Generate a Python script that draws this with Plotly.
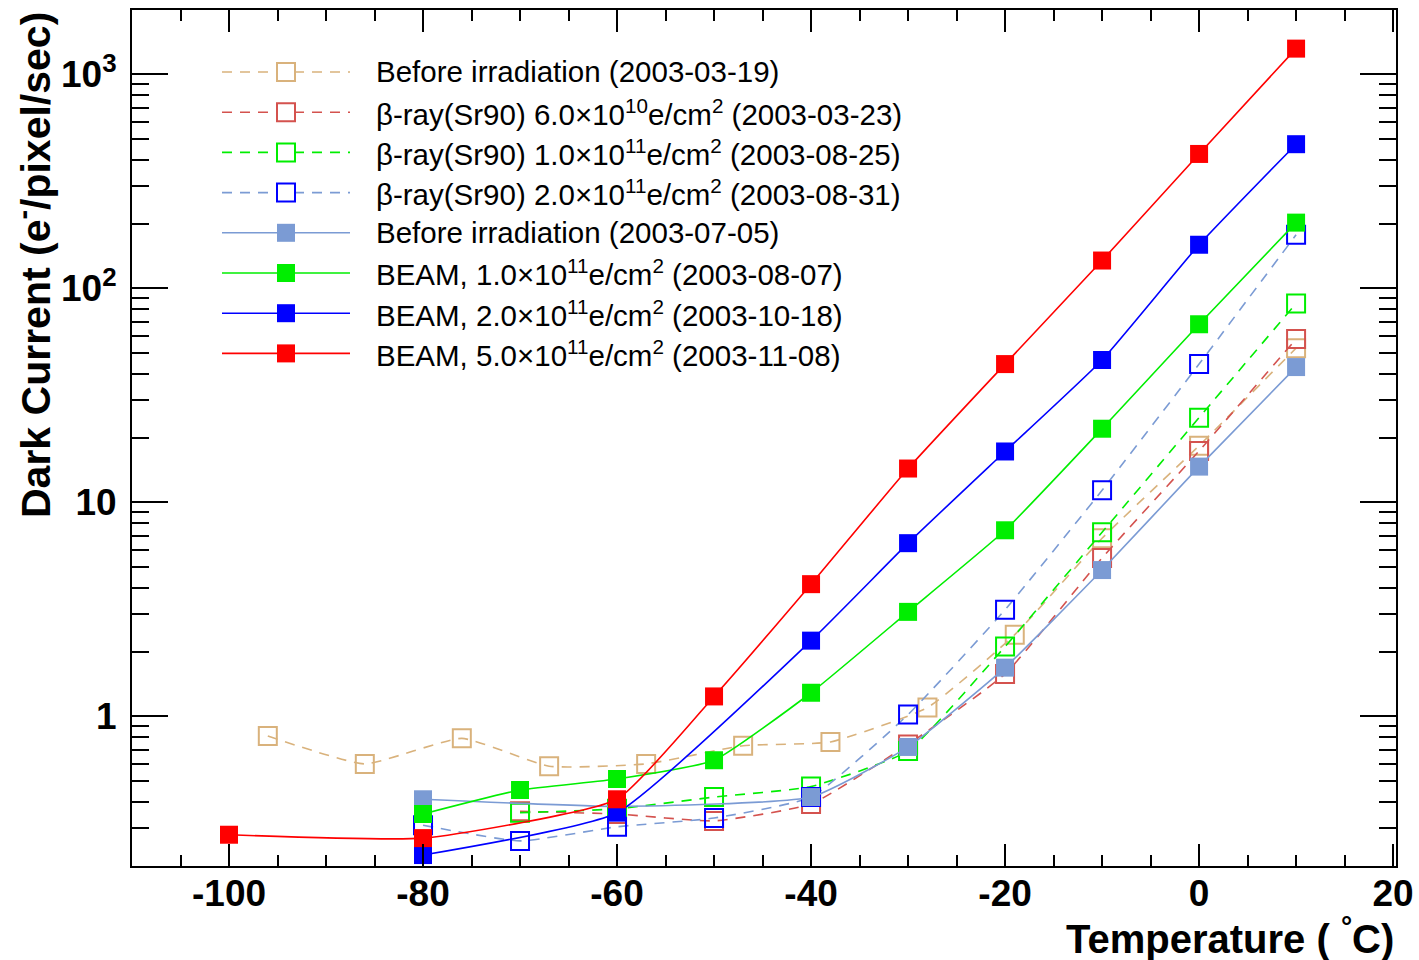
import math
import plotly.graph_objects as go

# ---- measured dark current (e-/pixel/sec) vs temperature (deg C) ----
temp_pre0319 = [-96, -86, -76, -67, -57, -47, -38, -28, -19, -10, 0, 10]
dc_pre0319 = [0.81, 0.60, 0.79, 0.585, 0.60, 0.73, 0.76, 1.10, 2.41, 6.8, 18.4, 52.6]

temp_beta6e10 = [-70, -60, -50, -40, -30, -20, -10, 0, 10]
dc_beta6e10 = [0.36, 0.35, 0.325, 0.39, 0.74, 1.58, 5.5, 17.4, 58]

temp_beta1e11 = [-70, -60, -50, -40, -30, -20, -10, 0, 10]
dc_beta1e11 = [0.355, 0.37, 0.42, 0.47, 0.69, 2.12, 7.25, 24.9, 85]

temp_beta2e11 = [-80, -70, -60, -50, -40, -30, -20, -10, 0, 10]
dc_beta2e11 = [0.31, 0.262, 0.305, 0.335, 0.42, 1.02, 3.15, 11.4, 44.3, 178]

temp_pre0705 = [-80, -60, -40, -30, -20, -10, 0, 10]
dc_pre0705 = [0.41, 0.38, 0.42, 0.72, 1.69, 4.83, 14.7, 42.9]

temp_beam1e11 = [-80, -70, -60, -50, -40, -30, -20, -10, 0, 10]
dc_beam1e11 = [0.35, 0.453, 0.51, 0.624, 1.29, 3.08, 7.41, 22.1, 68, 203]

temp_beam2e11 = [-80, -60, -40, -30, -20, -10, 0, 10]
dc_beam2e11 = [0.225, 0.355, 2.26, 6.45, 17.3, 46.3, 160, 472]

temp_beam5e11 = [-100, -80, -60, -50, -40, -30, -20, -10, 0, 10]
dc_beam5e11 = [0.28, 0.27, 0.41, 1.24, 4.15, 14.4, 44.3, 135, 425, 1320]

labels = [
    "Before irradiation (2003-03-19)",
    "β-ray(Sr90) 6.0×10<sup>10</sup>e/cm<sup>2</sup> (2003-03-23)",
    "β-ray(Sr90) 1.0×10<sup>11</sup>e/cm<sup>2</sup> (2003-08-25)",
    "β-ray(Sr90) 2.0×10<sup>11</sup>e/cm<sup>2</sup> (2003-08-31)",
    "Before irradiation (2003-07-05)",
    "BEAM, 1.0×10<sup>11</sup>e/cm<sup>2</sup> (2003-08-07)",
    "BEAM, 2.0×10<sup>11</sup>e/cm<sup>2</sup> (2003-10-18)",
    "BEAM, 5.0×10<sup>11</sup>e/cm<sup>2</sup> (2003-11-08)",
]

x_ticks = [-100, -80, -60, -40, -20, 0, 20]
y_ticks = [1, 10, 100, 1000]
y_ticktext = ["1", "10", "10<sup>2</sup>", "10<sup>3</sup>"]

# ---- styles ----
TAN = "#d9b27c"
INDIAN = "#d4524e"
GREEN = "#00ee00"
BLUE = "#0000ff"
RED = "#ff0000"
LIGHTBLUE = "#7b9bd4"
DASH = "10px,8px"

series = [
    # (x, y, marker colour, line colour, filled, dashed)
    (temp_pre0319, dc_pre0319, TAN, TAN, False, True),
    (temp_beta6e10, dc_beta6e10, INDIAN, INDIAN, False, True),
    (temp_beta1e11, dc_beta1e11, GREEN, GREEN, False, True),
    (temp_beta2e11, dc_beta2e11, BLUE, LIGHTBLUE, False, True),
    (temp_pre0705, dc_pre0705, LIGHTBLUE, LIGHTBLUE, True, False),
    (temp_beam1e11, dc_beam1e11, GREEN, GREEN, True, False),
    (temp_beam2e11, dc_beam2e11, BLUE, BLUE, True, False),
    (temp_beam5e11, dc_beam5e11, RED, RED, True, False),
]

MSIZE = 18

fig = go.Figure()
for (xs, ys, mcol, lcol, filled, dashed), name in zip(series, labels):
    fig.add_trace(go.Scatter(
        x=xs, y=ys, mode="lines+markers", name=name, showlegend=False,
        line=dict(color=lcol, width=1.6, dash=DASH if dashed else "solid",
                  shape="spline", smoothing=0.45),
        marker=dict(
            symbol="square" if filled else "square-open",
            size=MSIZE, color=mcol,
            line=dict(color=mcol, width=2 if not filled else 0),
        ),
    ))

# ---- frame geometry (pixels) ----
W, H = 1419, 960
L, R, T, B = 132, 23, 10, 94
PW, PH = W - L - R, H - T - B


def paper_x(px):
    return (px - L) / PW


def paper_y(py):
    return (H - B - py) / PH


# ---- legend drawn inside the frame ----
LEG_X0, LEG_X1, LEG_TX = 222, 350, 376
LEG_Y0, LEG_DY = 72, 40.2
LEG_MX = (LEG_X0 + LEG_X1) / 2
shapes = []
annotations = []
for i, ((xs, ys, mcol, lcol, filled, dashed), name) in enumerate(zip(series, labels)):
    yy = LEG_Y0 + i * LEG_DY
    shapes.append(dict(
        type="line", xref="paper", yref="paper",
        x0=paper_x(LEG_X0), x1=paper_x(LEG_X1), y0=paper_y(yy), y1=paper_y(yy),
        line=dict(color=lcol, width=1.6, dash=DASH if dashed else "solid"),
    ))
    half = MSIZE / 2
    shapes.append(dict(
        type="rect", xref="paper", yref="paper",
        x0=paper_x(LEG_MX - half), x1=paper_x(LEG_MX + half),
        y0=paper_y(yy - half), y1=paper_y(yy + half),
        fillcolor=mcol if filled else "white",
        line=dict(color=mcol, width=0 if filled else 2),
    ))
    annotations.append(dict(
        xref="paper", yref="paper", x=paper_x(LEG_TX - 2), y=paper_y(yy),
        xanchor="left", yanchor="middle", showarrow=False, text=name,
        font=dict(family="Liberation Sans", size=29.5, color="black"),
    ))

# axis titles
annotations.append(dict(
    xref="paper", yref="paper", x=paper_x(33), y=1.0,
    xanchor="center", yanchor="top", textangle=-90, showarrow=False,
    text="<b>Dark Current (e<sup>-</sup>/pixel/sec)</b>",
    font=dict(family="Liberation Sans", size=41, color="black"),
))
annotations.append(dict(
    xref="paper", yref="paper", x=paper_x(1396), y=paper_y(936),
    xanchor="right", yanchor="middle", showarrow=False,
    text="<b>Temperature ( <sup>°</sup>C)</b>",
    font=dict(family="Liberation Sans", size=40, color="black"),
))

y_minor = [m * 10 ** k for k in range(-1, 4) for m in range(2, 10)
           if 0.2 <= m * 10 ** k <= 2000]

tickfont = dict(family="Liberation Sans", size=37, color="black", weight=700)

fig.update_layout(
    width=W, height=H,
    margin=dict(l=L, r=R, t=T, b=B, autoexpand=False),
    paper_bgcolor="white", plot_bgcolor="white",
    showlegend=False,
    shapes=shapes, annotations=annotations,
    xaxis=dict(
        range=[-110, 20.3], showgrid=False, zeroline=False, automargin=False,
        showline=True, linecolor="black", linewidth=2, mirror="ticks",
        ticks="inside", ticklen=22, tickwidth=2, tickcolor="black",
        tickmode="array", tickvals=x_ticks, ticktext=[str(v) for v in x_ticks],
        tickfont=tickfont, ticklabelstandoff=-6,
        minor=dict(ticks="inside", dtick=5, tick0=0, ticklen=11,
                   tickwidth=2, tickcolor="black", showgrid=False),
    ),
    yaxis=dict(
        type="log", range=[math.log10(0.2), math.log10(2000)],
        showgrid=False, zeroline=False, automargin=False,
        showline=True, linecolor="black", linewidth=2, mirror="ticks",
        ticks="inside", ticklen=36, tickwidth=2, tickcolor="black",
        tickmode="array", tickvals=y_ticks, ticktext=y_ticktext,
        tickfont=tickfont, ticklabelstandoff=6,
        minor=dict(ticks="inside", tickmode="array", tickvals=y_minor,
                   ticklen=17, tickwidth=2, tickcolor="black", showgrid=False),
    ),
)

fig.write_html("out.html")
